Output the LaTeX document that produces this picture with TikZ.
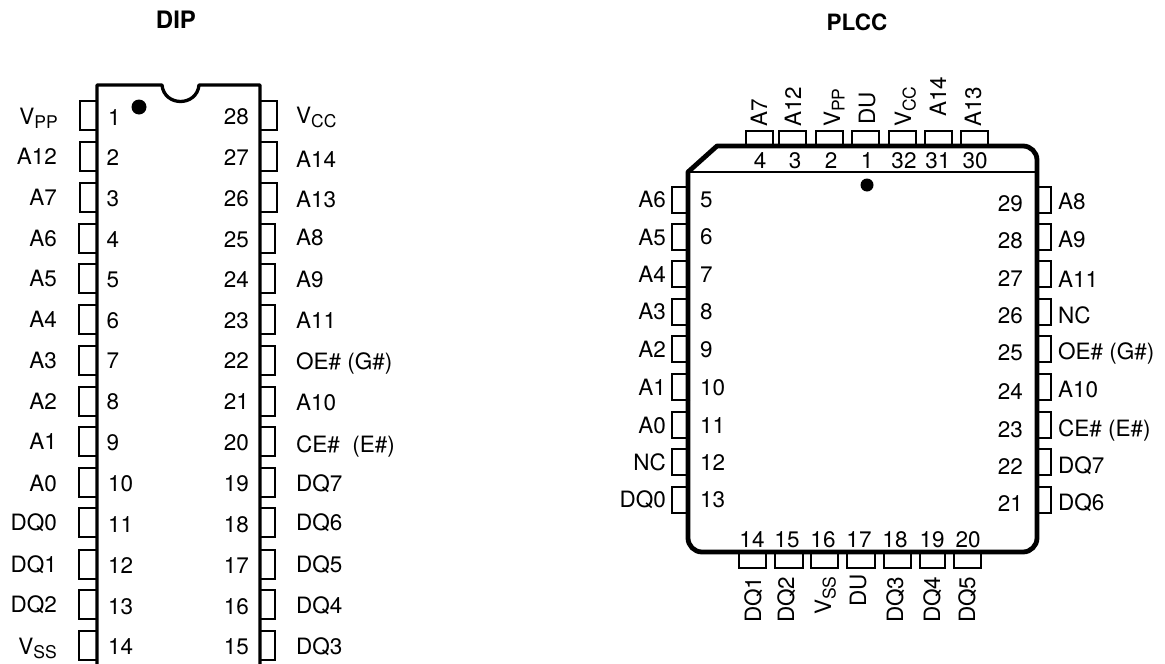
\documentclass[tikz,border=0pt]{standalone}
\usepackage{fontspec}
\setmainfont{TeX Gyre Heros}
\newcommand{\subs}[2]{#1\raisebox{-4.5pt}{\fontsize{17.5}{18}\selectfont #2}}
\tikzset{
  x=1pt,y=-1pt,
  lbl/.style={inner sep=0pt,font=\fontsize{22.5}{24}\selectfont,text=black},
  lw/.style={lbl,anchor=base west},
  le/.style={lbl,anchor=base east},
  lc/.style={lbl,anchor=base},
  vup/.style={lbl,anchor=base west,rotate=90},
  ttl/.style={inner sep=0pt,anchor=base,font=\fontsize{22.5}{24}\selectfont\bfseries},
  pin/.style={draw=black,line width=2pt,line join=miter},
  bodyline/.style={draw=black,line width=3.3pt,line join=round},
  plccline/.style={draw=black,line width=4.8pt,line join=round},
  thinline/.style={draw=black,line width=2pt},
  pdot/.style={circle,fill=black,inner sep=0pt}
}
\begin{document}
\begin{tikzpicture}
\useasboundingbox (0,0) rectangle (1165,664);
\node[ttl,font=\fontsize{24}{26}\selectfont\bfseries] (tdip) at (176,28) {DIP};
\node[ttl] (tplcc) at (857,30) {PLCC};
% DIP pins
\foreach \y in {101,142,183} \draw[pin] (97,\y) -- (80,\y) -- (80,\y+29) -- (97,\y+29);
\foreach \y in {223.5,264,305,346,386.5,427,468,508,549.5,590,631} \draw[pin] (97,\y) -- (78.5,\y) -- (78.5,\y+29) -- (97,\y+29);
\foreach \y in {101,142,183} \draw[pin] (260,\y) -- (277,\y) -- (277,\y+29) -- (260,\y+29);
\foreach \y in {223.5,264,305,346,386.5,427,468,508,549.5,590,631} \draw[pin] (260,\y) -- (275,\y) -- (275,\y+29) -- (260,\y+29);
% DIP body
\draw[bodyline] (97,664) -- (97,85) -- (162,85) .. controls (163,96) and (172,101.5) .. (180.5,101.5) .. controls (189,101.5) and (198,96) .. (199,85) -- (260,85) -- (260,664);
\node[pdot,minimum size=15pt] (ddot) at (139,107) {};
% DIP numbers
\foreach \n/\x/\y in {1/108/117,2/106.5/157,3/106.5/198,4/106.5/239,5/106.5/279,6/106.5/320,7/106.5/360,8/106.5/401,9/106.5/442,10/108/483,11/108/524,12/108/565,13/108/606,14/108/646}
  \node[lw] (dn\n) at (\x,\y+8) {\n};
\foreach \n/\y in {28/116,27/157,26/198,25/239,24/279,23/320,22/360,21/401,20/442,19/483,18/524,17/565,16/606,15/646}
  \node[le] (dn\n) at (249,\y+8) {\n};
% DIP left labels
\foreach \t/\y in {A12/156,A7/197,A6/238,A5/278,A4/319,A3/360,A2/401,A1/441,A0/483,DQ0/522,DQ1/564,DQ2/604}
  \node[le] (dl\t) at (57,\y+8) {\t};
\node[le] (dlvpp) at (58,124) {\subs{V}{PP}};
\node[le] (dlvss) at (57,654) {\subs{V}{SS}};
% DIP right labels
\node[lw] (drvcc) at (296,123) {\subs{V}{CC}};
\foreach \t/\y in {A14/159,A13/199,A8/237,A9/279,A11/320,A10/402,DQ7/483,DQ6/522,DQ5/564,DQ4/605,DQ3/646}
  \node[lw] (dr\t) at (296,\y+8) {\t};
\node[lw] (droe) at (296,369) {OE\# (G\#)};
\node[lw] (drce) at (296,452) {CE\#\ \ (E\#)};
% PLCC pins
\foreach \a/\b in {746/773,779/806,816/843,852/879,889/916,925/952,961/988} \draw[pin] (\a,146) -- (\a,131) -- (\b,131) -- (\b,146);
\foreach \a/\b in {739/766,775/803,811/838,847/875,884/911,920/945,954/981} \draw[pin] (\a,552) -- (\a,568) -- (\b,568) -- (\b,552);
\foreach \y in {187,224,261,299,336,374,412,449,487} {
  \draw[pin] (688,\y) -- (672,\y) -- (672,\y+26) -- (688,\y+26);
  \draw[pin] (1037,\y) -- (1051,\y) -- (1051,\y+26) -- (1037,\y+26);
}
% PLCC body
\draw[thinline] (688,172) -- (1037,172);
\draw[plccline,rounded corners=14pt] (800,146) -- (1037,146) -- (1037,552) -- (688,552) -- (688,400);
\draw[plccline] (688,400) -- (688,172) -- (717,146) -- (800,146);
\node[pdot,minimum size=13pt] (pdotm) at (867,185) {};
% PLCC numbers
\foreach \n/\x in {4/760,3/795,2/831,1/867,32/904,31/938,30/975}
  \node[lc] (pn\n) at (\x,168) {\n};
\foreach \n/\x in {14/752,15/787,16/823,17/859,18/895,19/932,20/968}
  \node[lc] (pn\n) at (\x,547) {\n};
\foreach \n/\y in {5/199,6/236,7/274,8/311,9/349,10/387,11/425,12/462,13/499}
  \node[lw] (pn\n) at (700,\y+8) {\n};
\foreach \n/\y in {29/203,28/240,27/278,26/315,25/352,24/391,23/429,22/466,21/503}
  \node[le] (pn\n) at (1023,\y+8) {\n};
% PLCC side labels
\foreach \t/\y in {A6/199,A5/237,A4/274,A3/311,A2/349,A1/387,A0/425,NC/462,DQ0/499}
  \node[le] (pl\t) at (666,\y+8) {\t};
\foreach \t/\y in {A8/201,A9/239,A11/279,NC/315,A10/389,DQ7/465,DQ6/502}
  \node[lw] (pr\t) at (1058,\y+8) {\t};
\node[lw] (proe) at (1058,359) {OE\# (G\#)};
\node[lw] (prce) at (1058,436) {CE\# (E\#)};
% PLCC rotated labels
\foreach \t/\x/\y in {A7/767/127,A12/801/127,DU/875/125,A14/946/117,A13/981/127}
  \node[vup] (pt\t) at (\x,\y) {\t};
\node[vup] (ptvpp) at (840,127) {\subs{V}{PP}};
\node[vup] (ptvcc) at (911,127) {\subs{V}{CC}};
\foreach \t/\x/\y in {DQ1/761/623,DQ2/794/623,DU/866/607,DQ3/903/623,DQ4/940/623,DQ5/975/623}
  \node[vup] (pb\t) at (\x,\y) {\t};
\node[vup] (pbvss) at (831,615) {\subs{V}{SS}};
\end{tikzpicture}
\end{document}
